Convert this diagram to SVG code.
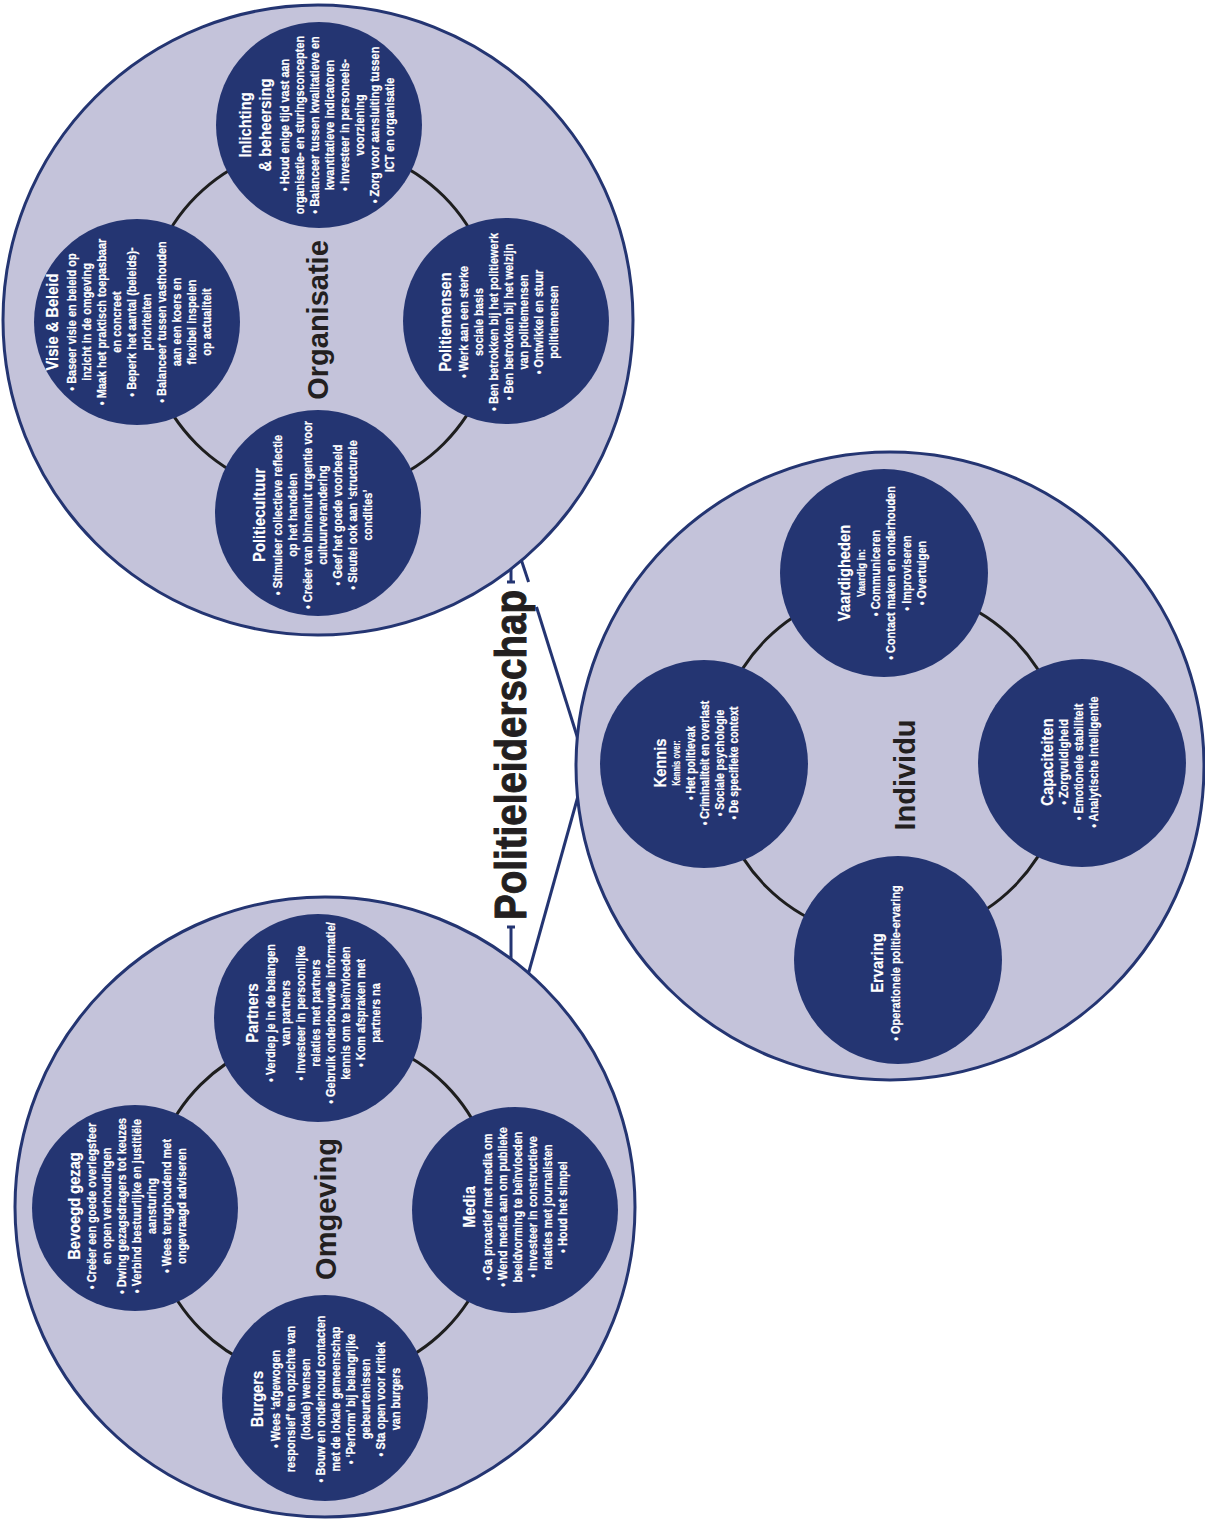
<svg xmlns="http://www.w3.org/2000/svg" width="1205" height="1520" viewBox="0 0 1205 1520">
  <style>
    .domain { fill: #c4c3da; stroke: #243572; stroke-width: 3; }
    .ring { fill: none; stroke: #1e1e1e; stroke-width: 3; }
    .sub { fill: #243572; }
    .link { stroke: #243572; stroke-width: 3; fill: none; }
    text { font-family: "Liberation Sans", Arial, sans-serif; font-weight: bold; text-anchor: middle; }
    .big { font-size: 29px; fill: #231f20; }
    .head { font-size: 16.5px; fill: #ffffff; stroke: #ffffff; stroke-width: 0.2; }
    .item { font-size: 13px; fill: #ffffff; stroke: #ffffff; stroke-width: 0.25; }
    .lead { font-size: 11.5px; fill: #ffffff; stroke: #ffffff; stroke-width: 0.2; }
    .lead2 { font-size: 10.5px; fill: #ffffff; stroke: #ffffff; stroke-width: 0.2; }
    .main { font-size: 44px; fill: #231f20; stroke: #231f20; stroke-width: 1; text-anchor: start; }
  </style>

  <!-- connectors -->
  <g id="connectors">
    <line class="link" x1="511" y1="550" x2="511" y2="582"/>
    <line class="link" x1="507" y1="582" x2="515" y2="582"/>
    <line class="link" x1="511" y1="927" x2="511" y2="968"/>
    <line class="link" x1="507" y1="927" x2="515" y2="927"/>
    <line class="link" x1="515" y1="541" x2="528.6" y2="582"/>
    <line class="link" x1="536.5" y1="607" x2="582" y2="752"/>
    <line class="link" x1="580" y1="789" x2="526" y2="982"/>
  </g>

  <!-- Organisatie -->
  <g id="organisatie">
    <circle class="domain" cx="318" cy="320" r="315"/>
    <circle class="ring" cx="320" cy="320" r="175"/>
    <text class="big" transform="translate(328,320) rotate(-90)">Organisatie</text>
  </g>

  <g id="inlichting-beheersing">
    <circle class="sub" cx="319" cy="125" r="103"/>
    <g transform="translate(251,125) rotate(-90)">
      <g transform="scale(0.89,1)">
        <text class="head" y="0">Inlichting</text>
        <text class="head" y="20">&amp; beheersing</text>
      </g>
      <g transform="scale(0.84,1)">
        <text class="item" y="38">• Houd enige tijd vast aan</text>
        <text class="item" y="53">organisatie- en sturingsconcepten</text>
        <text class="item" y="68">• Balanceer tussen kwalitatieve en</text>
        <text class="item" y="83">kwantitatieve indicatoren</text>
        <text class="item" y="98">• Investeer in personeels-</text>
        <text class="item" y="113">voorziening</text>
        <text class="item" y="128">• Zorg voor aansluiting tussen</text>
        <text class="item" y="143">ICT en organisatie</text>
      </g>
    </g>
  </g>

  <g id="visie-beleid">
    <circle class="sub" cx="137" cy="322" r="103"/>
    <g transform="translate(58,322) rotate(-90)">
      <g transform="scale(0.89,1)">
        <text class="head" y="0">Visie &amp; Beleid</text>
      </g>
      <g transform="scale(0.84,1)">
        <text class="item" y="18">• Baseer visie en beleid op</text>
        <text class="item" y="33">inzicht in de omgeving</text>
        <text class="item" y="48">• Maak het praktisch toepasbaar</text>
        <text class="item" y="63">en concreet</text>
        <text class="item" y="78">• Beperk het aantal (beleids)-</text>
        <text class="item" y="93">prioriteiten</text>
        <text class="item" y="108">• Balanceer tussen vasthouden</text>
        <text class="item" y="123">aan een koers en</text>
        <text class="item" y="138">flexibel inspelen</text>
        <text class="item" y="153">op actualiteit</text>
      </g>
    </g>
  </g>

  <g id="politiemensen">
    <circle class="sub" cx="506" cy="321" r="103"/>
    <g transform="translate(451,322) rotate(-90)">
      <g transform="scale(0.89,1)">
        <text class="head" y="0">Politiemensen</text>
      </g>
      <g transform="scale(0.84,1)">
        <text class="item" y="17">• Werk aan een sterke</text>
        <text class="item" y="32">sociale basis</text>
        <text class="item" y="47">• Ben betrokken bij het politiewerk</text>
        <text class="item" y="62">• Ben betrokken bij het welzijn</text>
        <text class="item" y="77">van politiemensen</text>
        <text class="item" y="92">• Ontwikkel en stuur</text>
        <text class="item" y="107">politiemensen</text>
      </g>
    </g>
  </g>

  <g id="politiecultuur">
    <circle class="sub" cx="318" cy="513" r="103"/>
    <g transform="translate(265,515) rotate(-90)">
      <g transform="scale(0.89,1)">
        <text class="head" y="0">Politiecultuur</text>
      </g>
      <g transform="scale(0.84,1)">
        <text class="item" y="17">• Stimuleer collectieve reflectie</text>
        <text class="item" y="32">op het handelen</text>
        <text class="item" y="47">• Creëer van binnenuit urgentie voor</text>
        <text class="item" y="62">cultuurverandering</text>
        <text class="item" y="77">• Geef het goede voorbeeld</text>
        <text class="item" y="92">• Sleutel ook aan ‘structurele</text>
        <text class="item" y="107">condities’</text>
      </g>
    </g>
  </g>

  <!-- Individu -->
  <g id="individu">
    <circle class="domain" cx="890" cy="766" r="314"/>
    <circle class="ring" cx="890" cy="763" r="175"/>
    <text class="big" transform="translate(915,775) rotate(-90)">Individu</text>
  </g>

  <g id="vaardigheden">
    <circle class="sub" cx="884" cy="573" r="104"/>
    <g transform="translate(850,573) rotate(-90)">
      <g transform="scale(0.89,1)">
        <text class="head" y="0">Vaardigheden</text>
      </g>
      <g transform="scale(0.82,1)">
        <text class="lead" y="15">Vaardig in:</text>
      </g>
      <g transform="scale(0.84,1)">
        <text class="item" y="30">• Communiceren</text>
        <text class="item" y="45.5">• Contact maken en onderhouden</text>
        <text class="item" y="61">• Improviseren</text>
        <text class="item" y="76.5">• Overtuigen</text>
      </g>
    </g>
  </g>

  <g id="kennis">
    <circle class="sub" cx="704" cy="764" r="104"/>
    <g transform="translate(666,763) rotate(-90)">
      <g transform="scale(0.89,1)">
        <text class="head" y="0">Kennis</text>
      </g>
      <g transform="scale(0.72,1)">
        <text class="lead2" y="14">Kennis over:</text>
      </g>
      <g transform="scale(0.8,1)">
        <text class="item" y="29">• Het politievak</text>
        <text class="item" y="43.5">• Criminaliteit en overlast</text>
        <text class="item" y="58">• Sociale psychologie</text>
        <text class="item" y="72.5">• De specifieke context</text>
      </g>
    </g>
  </g>

  <g id="capaciteiten">
    <circle class="sub" cx="1082" cy="763" r="104"/>
    <g transform="translate(1053,762) rotate(-90)">
      <g transform="scale(0.89,1)">
        <text class="head" y="0">Capaciteiten</text>
      </g>
      <g transform="scale(0.84,1)">
        <text class="item" y="15">• Zorgvuldigheid</text>
        <text class="item" y="30">• Emotionele stabiliteit</text>
        <text class="item" y="45">• Analytische intelligentie</text>
      </g>
    </g>
  </g>

  <g id="ervaring">
    <circle class="sub" cx="898" cy="960" r="104"/>
    <g transform="translate(883,963) rotate(-90)">
      <g transform="scale(0.89,1)">
        <text class="head" y="0">Ervaring</text>
      </g>
      <g transform="scale(0.84,1)">
        <text class="item" y="17">• Operationele politie-ervaring</text>
      </g>
    </g>
  </g>

  <!-- Omgeving -->
  <g id="omgeving">
    <circle class="domain" cx="325" cy="1207" r="310"/>
    <circle class="ring" cx="323" cy="1207" r="173"/>
    <text class="big" transform="translate(336,1209) rotate(-90)">Omgeving</text>
  </g>

  <g id="partners">
    <circle class="sub" cx="318" cy="1018" r="104"/>
    <g transform="translate(258,1013) rotate(-90)">
      <g transform="scale(0.89,1)">
        <text class="head" y="0">Partners</text>
      </g>
      <g transform="scale(0.84,1)">
        <text class="item" y="17">• Verdiep je in de belangen</text>
        <text class="item" y="32">van partners</text>
        <text class="item" y="47">• Investeer in persoonlijke</text>
        <text class="item" y="62">relaties met partners</text>
        <text class="item" y="77">• Gebruik onderbouwde informatie/</text>
        <text class="item" y="92">kennis om te beïnvloeden</text>
        <text class="item" y="107">• Kom afspraken met</text>
        <text class="item" y="122">partners na</text>
      </g>
    </g>
  </g>

  <g id="bevoegd-gezag">
    <circle class="sub" cx="135" cy="1208" r="103"/>
    <g transform="translate(80,1206) rotate(-90)">
      <g transform="scale(0.89,1)">
        <text class="head" y="0">Bevoegd gezag</text>
      </g>
      <g transform="scale(0.84,1)">
        <text class="item" y="16">• Creëer een goede overlegsfeer</text>
        <text class="item" y="31">en open verhoudingen</text>
        <text class="item" y="46">• Dwing gezagsdragers tot keuzes</text>
        <text class="item" y="61">• Verbind bestuurlijke en justitiële</text>
        <text class="item" y="76">aansturing</text>
        <text class="item" y="91">• Wees terughoudend met</text>
        <text class="item" y="106">ongevraagd adviseren</text>
      </g>
    </g>
  </g>

  <g id="media">
    <circle class="sub" cx="515" cy="1210" r="103"/>
    <g transform="translate(475,1207) rotate(-90)">
      <g transform="scale(0.89,1)">
        <text class="head" y="0">Media</text>
      </g>
      <g transform="scale(0.84,1)">
        <text class="item" y="17">• Ga proactief met media om</text>
        <text class="item" y="32">• Wend media aan om publieke</text>
        <text class="item" y="47">beeldvorming te beïnvloeden</text>
        <text class="item" y="62">• Investeer in constructieve</text>
        <text class="item" y="77">relaties met journalisten</text>
        <text class="item" y="92">• Houd het simpel</text>
      </g>
    </g>
  </g>

  <g id="burgers">
    <circle class="sub" cx="325" cy="1398" r="103"/>
    <g transform="translate(263,1399) rotate(-90)">
      <g transform="scale(0.89,1)">
        <text class="head" y="0">Burgers</text>
      </g>
      <g transform="scale(0.84,1)">
        <text class="item" y="17">• Wees ‘afgewogen</text>
        <text class="item" y="32">responsief’ ten opzichte van</text>
        <text class="item" y="47">(lokale) wensen</text>
        <text class="item" y="62">• Bouw en onderhoud contacten</text>
        <text class="item" y="77">met de lokale gemeenschap</text>
        <text class="item" y="92">• ‘Perform’ bij belangrijke</text>
        <text class="item" y="107">gebeurtenissen</text>
        <text class="item" y="122">• Sta open voor kritiek</text>
        <text class="item" y="137">van burgers</text>
      </g>
    </g>
  </g>

  <!-- central title -->
  <g id="politieleiderschap">
    <text class="main" transform="translate(526,755) rotate(-90)" x="-165" y="0" textLength="330" lengthAdjust="spacingAndGlyphs">Politieleiderschap</text>
  </g>
</svg>
